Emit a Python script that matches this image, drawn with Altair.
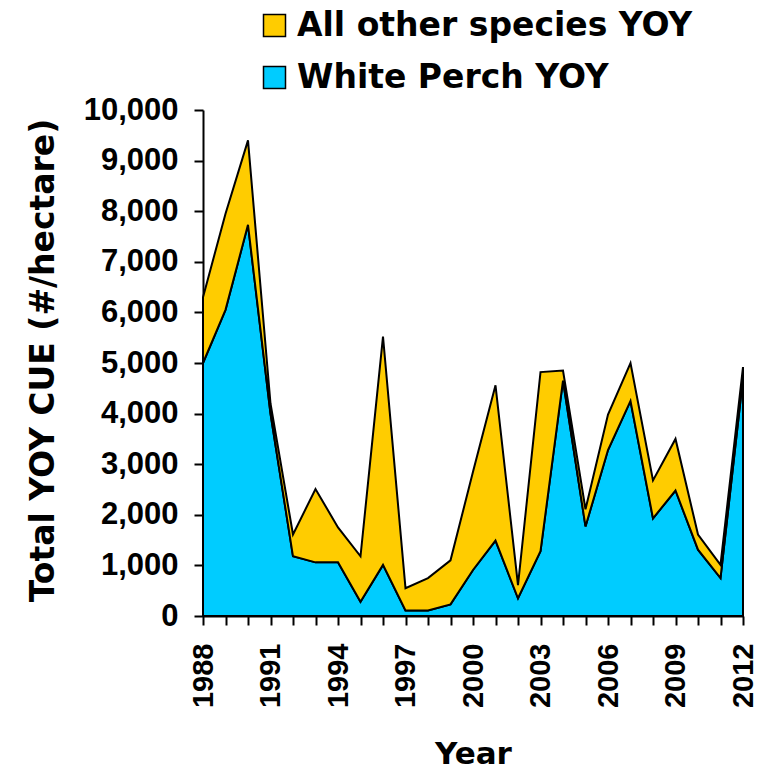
import altair as alt
import pandas as pd

years = list(range(1988, 2013))
white_perch = [5000, 6050, 7730, 4000, 1180, 1060, 1060, 280, 1010, 110, 110, 230, 910,
               1490, 350, 1280, 4650, 1770, 3280, 4250, 1930, 2480, 1310, 750, 4700]
all_other = [1300, 1900, 1670, 200, 430, 1450, 690, 900, 4510, 440, 640, 870, 1940,
             3070, 260, 3540, 200, 340, 700, 750, 750, 1020, 300, 260, 220]
series_names = ["All other species YOY", "White Perch YOY"]
series_colors = ["#FFCC00", "#00CCFF"]
y_ticks = list(range(0, 10001, 1000))

rows = []
for i, yr in enumerate(years):
    rows.append({"year": yr, "series": series_names[1], "value": white_perch[i], "rank": 0})
    rows.append({"year": yr, "series": series_names[0], "value": all_other[i], "rank": 1})
df = pd.DataFrame(rows)

FONT = "Liberation Sans"
TFONT = "DejaVu Sans"

chart = alt.Chart(df).mark_area(
    stroke="black", strokeWidth=2, strokeJoin="miter", opacity=1
).encode(
    x=alt.X("year:Q",
            scale=alt.Scale(domain=[1988, 2012], nice=False, zero=False),
            axis=alt.Axis(values=years, format="d",
                          labelExpr="(datum.value - 1988) % 3 == 0 ? datum.label : ''",
                          labelAngle=270, labelAlign="right", labelBaseline="middle",
                          labelFont=FONT, labelFontSize=29, labelFontWeight="bold",
                          labelColor="black", labelPadding=18, labelOverlap=False,
                          labelFlush=False, labelBound=False,
                          tickSize=9, tickWidth=2, tickColor="black",
                          domainColor="black", domainWidth=2, grid=False,
                          title="Year", titleFont=TFONT, titleFontSize=31,
                          titleFontWeight="bold", titleColor="black",
                          titleX=270, titleY=147, titleBaseline="alphabetic",
                          titleAlign="center")),
    y=alt.Y("value:Q", stack="zero",
            scale=alt.Scale(domain=[0, 10000], nice=False),
            axis=alt.Axis(values=y_ticks, format=",.0f",
                          labelFont=FONT, labelFontSize=31, labelFontWeight="bold",
                          labelColor="black", labelPadding=16,
                          tickSize=9, tickWidth=2, tickColor="black",
                          domainColor="black", domainWidth=2, grid=False,
                          title="Total YOY CUE (#/hectare)", titleFont=TFONT,
                          titleFontSize=33, titleFontWeight="bold", titleColor="black",
                          titleAngle=270, titleX=-150, titleY=250,
                          titleBaseline="alphabetic", titleAlign="center")),
    color=alt.Color("series:N",
                    scale=alt.Scale(domain=series_names, range=series_colors),
                    legend=alt.Legend(orient="none", legendX=55, legendY=-101,
                                      title=None, symbolType="square", symbolSize=484,
                                      symbolStrokeColor="black", symbolStrokeWidth=1.5,
                                      symbolOpacity=1,
                                      labelFont=TFONT, labelFontSize=33,
                                      labelFontWeight="bold", labelColor="black",
                                      labelOffset=6, rowPadding=18, padding=0,
                                      labelLimit=600)),
    order=alt.Order("rank:Q")
).properties(
    width=540, height=506,
    autosize=alt.AutoSizeParams(type="none"),
    padding={"left": 195, "top": 102, "right": 13, "bottom": 155},
).configure_view(stroke=None)

chart.save("out.html", embed_options={"renderer": "svg", "actions": False})
